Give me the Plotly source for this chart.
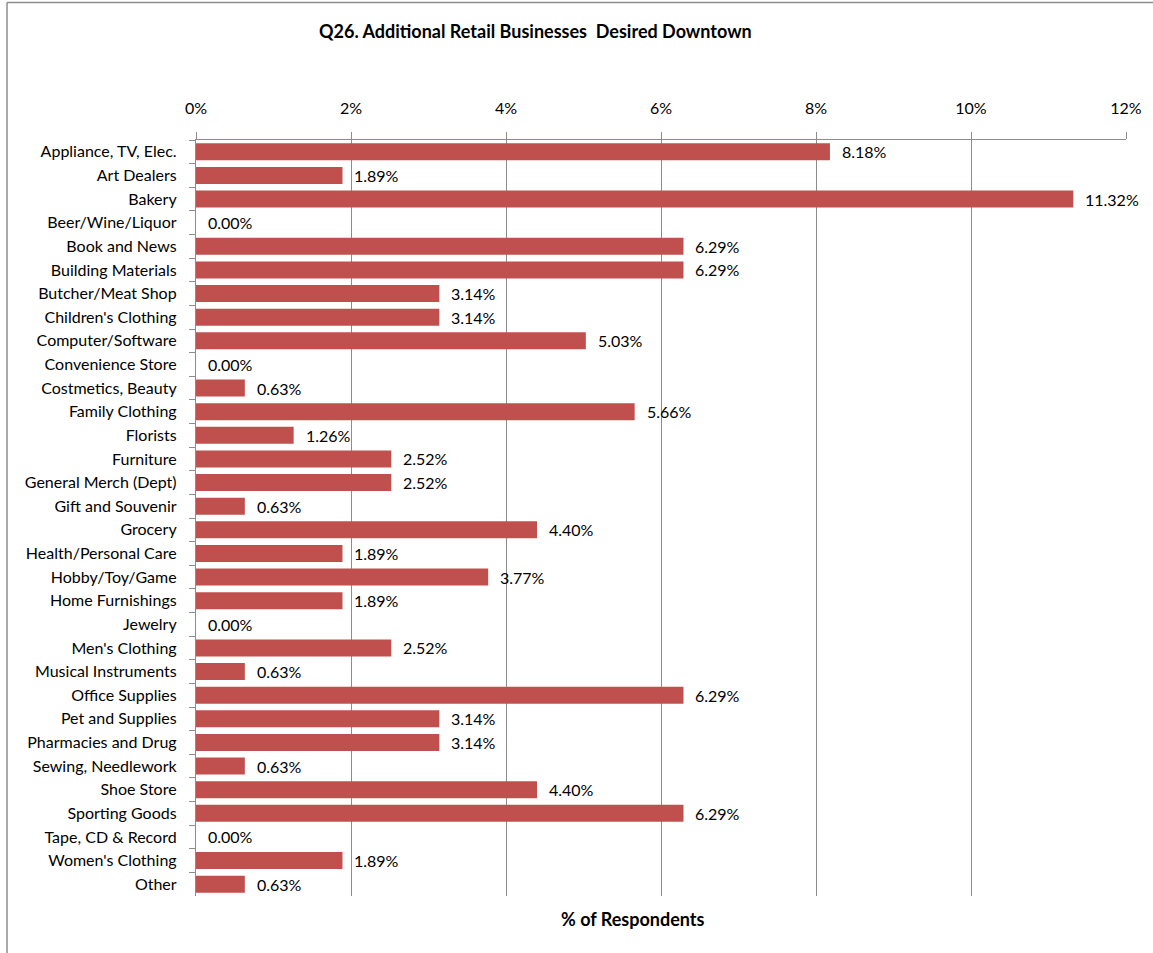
import plotly.graph_objects as go

# Survey responses: share of respondents wanting each retail type downtown
categories = [
    "Appliance, TV, Elec.", "Art Dealers", "Bakery", "Beer/Wine/Liquor",
    "Book and News", "Building Materials", "Butcher/Meat Shop",
    "Children's Clothing", "Computer/Software", "Convenience Store",
    "Costmetics, Beauty", "Family Clothing", "Florists", "Furniture",
    "General Merch (Dept)", "Gift and Souvenir", "Grocery",
    "Health/Personal Care", "Hobby/Toy/Game", "Home Furnishings", "Jewelry",
    "Men's Clothing", "Musical Instruments", "Office Supplies",
    "Pet and Supplies", "Pharmacies and Drug", "Sewing, Needlework",
    "Shoe Store", "Sporting Goods", "Tape, CD & Record", "Women's Clothing",
    "Other",
]
pct_respondents = [
    8.18, 1.89, 11.32, 0.00, 6.29, 6.29, 3.14, 3.14, 5.03, 0.00, 0.63, 5.66,
    1.26, 2.52, 2.52, 0.63, 4.40, 1.89, 3.77, 1.89, 0.00, 2.52, 0.63, 6.29,
    3.14, 3.14, 0.63, 4.40, 6.29, 0.00, 1.89, 0.63,
]
x_ticks = [0, 2, 4, 6, 8, 10, 12]

FONT = "Lato"
GRID = "#8c8c8c"
BAR = "#C0504D"
FS = 16

fig = go.Figure(
    go.Bar(
        x=pct_respondents,
        y=categories,
        orientation="h",
        width=0.72,
        marker=dict(color=BAR, line=dict(width=0)),
        hoverinfo="skip",
    )
)

# Value labels beside each bar
for cat, v in zip(categories, pct_respondents):
    fig.add_annotation(
        x=v, y=cat, text=f"{v:.2f}%", showarrow=False,
        xanchor="left", yanchor="middle", xshift=10,
        font=dict(family=FONT, size=FS, color="#000000"),
    )

fig.update_layout(
    width=1153, height=953,
    margin=dict(l=196, r=27, t=140, b=57, pad=0),
    paper_bgcolor="white", plot_bgcolor="white",
    showlegend=False,
    font=dict(family=FONT, size=FS, color="#000000"),
    xaxis=dict(
        side="top", range=[0, 12], tickvals=x_ticks,
        ticktext=[f"{t}%" for t in x_ticks],
        showgrid=True, gridcolor=GRID, gridwidth=1.3,
        showline=True, linecolor=GRID, linewidth=1.3,
        ticks="outside", ticklen=7, tickcolor=GRID, tickwidth=1.3,
        ticklabelstandoff=11,
        zeroline=False, tickfont=dict(family=FONT, size=FS),
        fixedrange=True,
    ),
    yaxis=dict(
        categoryorder="array", categoryarray=categories,
        autorange="reversed",
        showline=True, linecolor=GRID, linewidth=1.3,
        ticks="outside", ticklen=6, tickcolor=GRID, tickwidth=1.3,
        tickson="boundaries", showgrid=False,
        ticklabelstandoff=15,
        tickfont=dict(family=FONT, size=FS),
        fixedrange=True,
    ),
)

# Titles
fig.add_annotation(
    text="<b>Q26. Additional Retail Businesses  Desired Downtown</b>",
    xref="paper", yref="paper", x=(535 - 196) / 930, y=(897 - 32) / 756,
    xanchor="center", yanchor="middle", showarrow=False,
    font=dict(family=FONT, size=18, color="#000000"),
)
fig.add_annotation(
    text="<b>% of Respondents</b>",
    xref="paper", yref="paper", x=(632 - 196) / 930, y=(897 - 920) / 756,
    xanchor="center", yanchor="middle", showarrow=False,
    font=dict(family=FONT, size=18, color="#000000"),
)

# Chart frame (left and top edges; the rest runs off the page)
fig.add_shape(
    type="line", xref="paper", yref="paper",
    x0=(7 - 196) / 930, x1=(7 - 196) / 930,
    y0=(897 - 3.5) / 756, y1=(897 - 960) / 756,
    line=dict(color="#8c8c8c", width=1.5),
)
fig.add_shape(
    type="line", xref="paper", yref="paper",
    x0=(7 - 196) / 930, x1=(1160 - 196) / 930,
    y0=(897 - 3.5) / 756, y1=(897 - 3.5) / 756,
    line=dict(color="#8c8c8c", width=1.5),
)

fig.write_html("out.html")
